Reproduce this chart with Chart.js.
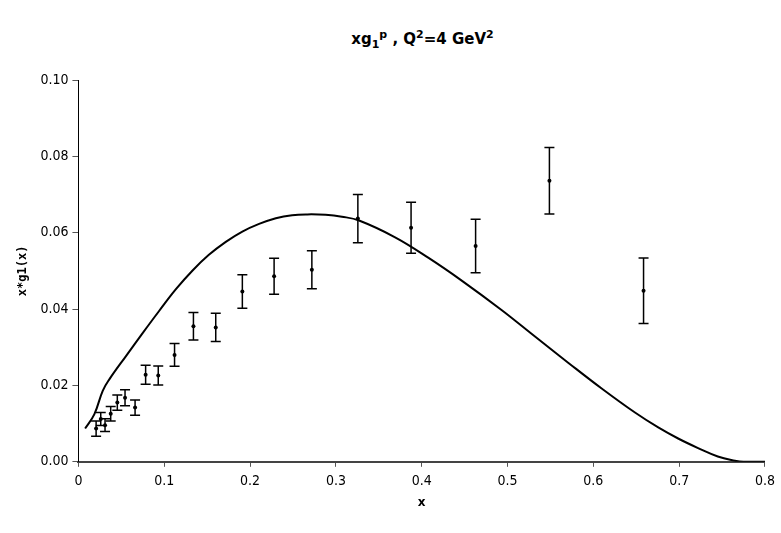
<!DOCTYPE html>
<html>
<head>
<meta charset="utf-8">
<script src="https://cdn.jsdelivr.net/npm/chart.js@4"></script>
<style>
  html, body { margin: 0; padding: 0; background: #fff; }
  #wrap { position: relative; width: 781px; height: 533px; }
  #title {
    position: absolute; left: 79px; width: 687px; top: 28px;
    text-align: center; font-family: "DejaVu Sans", sans-serif;
    font-weight: bold; font-size: 15px; color: #000;
  }
  #title sub, #title sup { font-size: 11px; }
  canvas { position: absolute; left: 0; top: 0; }
</style>
</head>
<body>
<div id="wrap">
  <div id="title">xg<sub>1</sub><sup>p</sup> , Q<sup>2</sup>=4 GeV<sup>2</sup></div>
  <canvas id="chart" width="781" height="533"></canvas>
</div>
<script>
// measured points
const dataX = [0.0206, 0.026, 0.031, 0.0376, 0.0453, 0.0543, 0.066, 0.0783, 0.093, 0.112,
               0.134, 0.160, 0.191, 0.228, 0.272, 0.3256, 0.3876, 0.4628, 0.5488, 0.6585];
const dataY = [0.0087, 0.0112, 0.0096, 0.0126, 0.0155, 0.0168, 0.0142, 0.0228, 0.0226, 0.028,
               0.0355, 0.0352, 0.0446, 0.0486, 0.0503, 0.0637, 0.0613, 0.0565, 0.0736, 0.0448];
const dataErr = [0.002, 0.0017, 0.00165, 0.0019, 0.002, 0.0021, 0.002, 0.0025, 0.0025, 0.003,
                 0.0036, 0.0037, 0.0044, 0.0047, 0.005, 0.0063, 0.0067, 0.007, 0.0087, 0.0086];

// model curve
const curveX = [0.0078, 0.0186, 0.0283, 0.036, 0.0554, 0.0748, 0.094, 0.1136, 0.133, 0.152,
                0.1717, 0.191, 0.2105, 0.230, 0.249, 0.2667, 0.288, 0.307, 0.327, 0.369,
                0.408, 0.447, 0.4934, 0.532, 0.571, 0.6097, 0.6485, 0.6756, 0.6988, 0.722,
                0.745, 0.765, 0.775, 0.8];
const curveY = [0.0087, 0.0125, 0.0186, 0.0216, 0.0277, 0.0337, 0.0395, 0.0452, 0.0501, 0.0542,
                0.0576, 0.0603, 0.0623, 0.0638, 0.0646, 0.0648, 0.0647, 0.0642, 0.0632, 0.0588,
                0.0534, 0.0474, 0.0397, 0.0328, 0.0259, 0.0192, 0.0129, 0.009, 0.0061, 0.0036,
                0.0014, 0.0003, 0, 0];

const xTicks = [0, 0.1, 0.2, 0.3, 0.4, 0.5, 0.6, 0.7, 0.8];
const yTicks = [0, 0.02, 0.04, 0.06, 0.08, 0.10];

const points = dataX.map((x, i) => ({ x: x, y: dataY[i] }));
const curve = curveX.map((x, i) => ({ x: x, y: curveY[i] }));

// draw vertical error bars with caps
const errorBars = {
    id: 'errorBars',
    afterDatasetsDraw(chart) {
        const ctx = chart.ctx;
        const xs = chart.scales.x, ys = chart.scales.y;
        ctx.save();
        ctx.strokeStyle = '#000';
        ctx.lineWidth = 1.5;
        for (let i = 0; i < dataX.length; i++) {
            const px = xs.getPixelForValue(dataX[i]);
            const top = ys.getPixelForValue(dataY[i] + dataErr[i]);
            const bot = ys.getPixelForValue(dataY[i] - dataErr[i]);
            ctx.beginPath();
            ctx.moveTo(px, top); ctx.lineTo(px, bot);
            ctx.moveTo(px - 5, top); ctx.lineTo(px + 5, top);
            ctx.moveTo(px - 5, bot); ctx.lineTo(px + 5, bot);
            ctx.stroke();
        }
        ctx.restore();
    }
};

new Chart(document.getElementById('chart'), {
    type: 'scatter',
    data: {
        datasets: [
            {
                data: curve,
                showLine: true,
                borderColor: '#000',
                borderWidth: 2,
                pointRadius: 0,
                tension: 0.4,
                fill: false
            },
            {
                data: points,
                pointRadius: 2,
                pointBackgroundColor: '#000',
                pointBorderColor: '#000',
                pointBorderWidth: 0
            }
        ]
    },
    options: {
        responsive: false,
        animation: false,
        layout: { padding: { top: 80, left: 16, right: 2, bottom: 23 } },
        plugins: { legend: { display: false }, tooltip: { enabled: false } },
        scales: {
            x: {
                type: 'linear', min: 0, max: 0.8,
                afterBuildTicks: axis => { axis.ticks = xTicks.map(v => ({ value: v })); },
                grid: { drawOnChartArea: false, drawTicks: true, tickLength: 5, color: '#555' },
                border: { color: '#444', width: 2 },
                ticks: {
                    color: '#000', padding: 6,
                    font: { family: '"DejaVu Sans Condensed", "DejaVu Sans", sans-serif', size: 14 },
                    callback: v => String(Math.round(v * 10) / 10)
                },
                title: {
                    display: true, text: 'x', color: '#000',
                    font: { family: '"DejaVu Sans", sans-serif', size: 12, weight: 'bold' },
                    padding: { top: 0, bottom: 0 }
                }
            },
            y: {
                type: 'linear', min: 0, max: 0.1,
                afterBuildTicks: axis => { axis.ticks = yTicks.map(v => ({ value: v })); },
                grid: { drawOnChartArea: false, drawTicks: true, tickLength: 6, color: '#555' },
                border: { color: '#000', width: 1 },
                ticks: {
                    color: '#000', padding: 4,
                    font: { family: '"DejaVu Sans Condensed", "DejaVu Sans", sans-serif', size: 14 },
                    callback: v => v.toFixed(2)
                },
                title: {
                    display: true, text: 'x*g1(x)', color: '#000',
                    font: { family: '"DejaVu Sans Mono", monospace', size: 12, weight: 'bold' },
                    padding: { top: 0, bottom: 6 }
                }
            }
        }
    },
    plugins: [errorBars]
});
</script>
</body>
</html>
